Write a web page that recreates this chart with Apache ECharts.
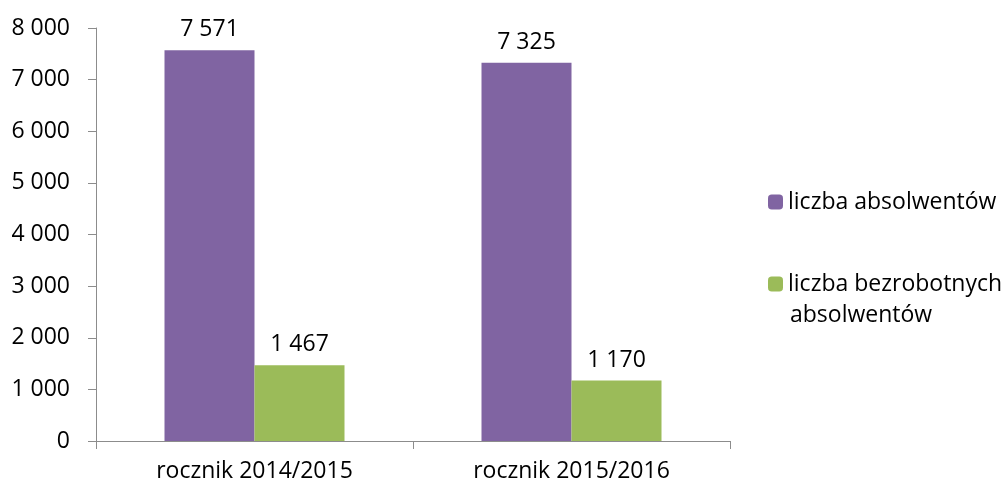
<!DOCTYPE html>
<html>
<head>
<meta charset="utf-8">
<script src="https://cdn.jsdelivr.net/npm/echarts@6/dist/echarts.min.js"></script>
<style>
  html, body { margin: 0; padding: 0; background: #fff; }
  #chart { width: 1008px; height: 486px; }
</style>
</head>
<body>
<div id="chart"></div>
<script>
  var categories = ['rocznik 2014/2015', 'rocznik 2015/2016'];
  var seriesNames = ['liczba absolwentów', 'liczba bezrobotnych absolwentów'];
  var graduates = [7571, 7325];
  var unemployed = [1467, 1170];
  var yTicks = { min: 0, max: 8000, interval: 1000 };

  var font = '"Open Sans", sans-serif';
  var fs = 23;
  var axisGray = '#8c8c8c';

  function fmt(v) {
    return String(v).replace(/\B(?=(\d{3})+(?!\d))/g, ' ');
  }

  var chart = echarts.init(document.getElementById('chart'));
  chart.setOption({
    animation: false,
    textStyle: { fontFamily: font, color: '#000' },
    grid: { left: 96, right: 278, top: 28, bottom: 45 },
    legend: [{
      data: [seriesNames[0]],
      orient: 'vertical',
      left: 768,
      top: 187,
      padding: 0,
      itemWidth: 15,
      itemHeight: 15,
      textStyle: { fontFamily: font, fontSize: fs, color: '#000', lineHeight: 30 }
    }, {
      data: [seriesNames[1]],
      orient: 'vertical',
      left: 768,
      top: 269,
      padding: 0,
      itemWidth: 15,
      itemHeight: 15,
      // the second line is drawn below as its own text
      formatter: function () { return 'liczba bezrobotnych'; },
      textStyle: { fontFamily: font, fontSize: fs, color: '#000', lineHeight: 30 }
    }],
    graphic: [{
      type: 'text',
      left: 790,
      top: 300,
      style: { text: 'absolwentów', font: fs + 'px ' + font, fill: '#000', lineHeight: 30 }
    }],
    xAxis: {
      type: 'category',
      data: categories,
      axisLine: { lineStyle: { color: axisGray, width: 1 } },
      axisTick: { show: true, length: 8, lineStyle: { color: axisGray } },
      axisLabel: { fontFamily: font, fontSize: fs, color: '#000', margin: 19 }
    },
    yAxis: {
      type: 'value',
      min: yTicks.min,
      max: yTicks.max,
      interval: yTicks.interval,
      splitLine: { show: false },
      axisLine: { show: true, lineStyle: { color: axisGray, width: 1 } },
      axisTick: { show: true, length: 8, lineStyle: { color: axisGray } },
      axisLabel: { fontFamily: font, fontSize: fs, color: '#000', margin: 26, formatter: fmt }
    },
    series: [{
      name: seriesNames[0],
      type: 'bar',
      data: graduates,
      barWidth: 90,
      barGap: '0%',
      itemStyle: { color: '#8064A2' },
      label: { show: true, position: 'top', distance: 9, fontFamily: font, fontSize: fs, color: '#000', formatter: function (p) { return fmt(p.value); } }
    }, {
      name: seriesNames[1],
      type: 'bar',
      data: unemployed,
      barWidth: 90,
      barGap: '0%',
      itemStyle: { color: '#9BBB59' },
      label: { show: true, position: 'top', distance: 9, fontFamily: font, fontSize: fs, color: '#000', formatter: function (p) { return fmt(p.value); } }
    }]
  });
</script>
</body>
</html>
